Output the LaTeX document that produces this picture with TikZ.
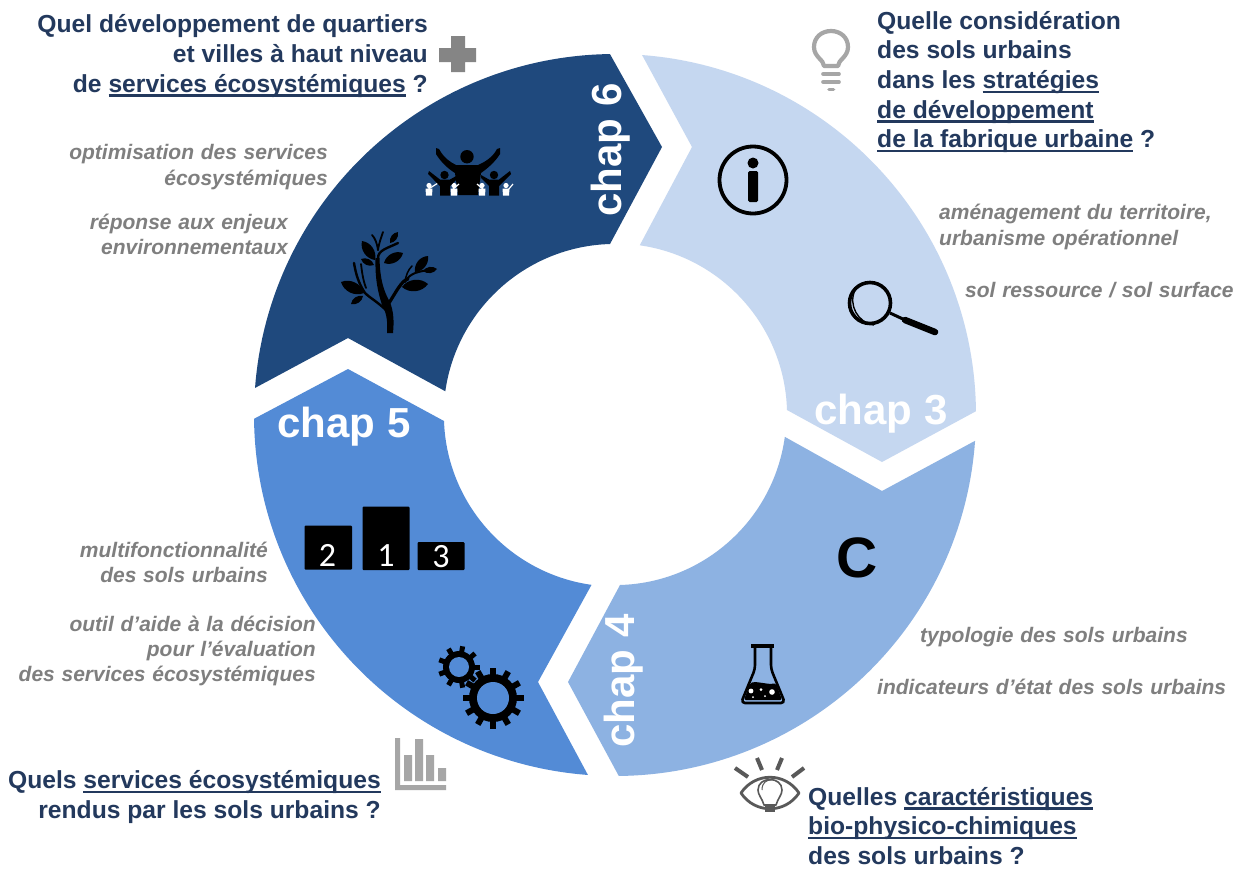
\documentclass[tikz,border=0pt]{standalone}
\usepackage{fontspec}
\setmainfont{Liberation Sans}
\newfontfamily\carl{Carlito}
\newfontfamily\greyfont[WordSpace=1.15]{Liberation Sans}
\definecolor{cA}{HTML}{1F497D}
\definecolor{cB}{HTML}{C5D7F0}
\definecolor{cC}{HTML}{8DB2E2}
\definecolor{cD}{HTML}{538BD6}
\definecolor{navy}{HTML}{23395D}
\definecolor{greyT}{HTML}{7F7F7F}
\definecolor{iconG}{HTML}{A6A6A6}
\newcommand{\ulx}[1]{\setbox0\hbox{#1}\rlap{\rule[-4.5pt]{\wd0}{2.4pt}}\box0\relax}
\newcommand{\leafx}[2]{\fill #1 to[bend left=48] #2 to[bend left=48] #1;}
\newcommand{\gearx}[7]{%
  \fill[black] (#1,#2) circle (#3);
  \foreach \k in {1,...,#6} {\draw[black,line width=#7] (#1,#2) ++({\k*360/#6}:#3-1) -- ++({\k*360/#6}:#5-#3+1);}
  \fill[cD] (#1,#2) circle (#4);}
\tikzset{
  headT/.style={font=\bfseries\fontsize{24.65}{29.7}\selectfont,text=navy,inner sep=0pt},
  greyL/.style={font=\greyfont\bfseries\itshape\fontsize{21}{25.2}\selectfont,text=greyT,inner sep=0pt},
  chapT/.style={font=\bfseries\fontsize{42}{42}\selectfont,text=white,inner sep=0pt},
  iconBox/.style={fill=black,rounded corners=1pt},
  digitT/.style={font=\carl\fontsize{34}{34}\selectfont,text=white,inner sep=0pt}
}
\begin{document}
\begin{tikzpicture}[x=1pt,y=-1pt,line join=round]
\path[use as bounding box,fill=white] (0,0) rectangle (1245,868);
\coordinate (ctr) at (615,415);
% ring
\fill[cA] (ctr) ++(184.3:361) arc[start angle=184.3,end angle=269.2,radius=361] -- (662,147) -- (610,244) arc[start angle=268.3,end angle=188.1,radius=171.5] -- (348,338) -- cycle;
\fill[cB] (ctr) ++(274.3:361) arc[start angle=274.3,end angle=359.4,radius=361] -- (882,462) -- (787,410) arc[start angle=358.3,end angle=278.1,radius=171.5] -- (692,147) -- cycle;
\fill[cC] (ctr) ++(4.1:361) arc[start angle=4.1,end angle=89.4,radius=361] -- (568,682) -- (620,585) arc[start angle=88.3,end angle=7.8,radius=171.5] -- (882,491) -- cycle;
\fill[cD] (ctr) ++(94.3:361) arc[start angle=94.3,end angle=179.4,radius=361] -- (348,369) -- (444,421) arc[start angle=178,end angle=98,radius=171.5] -- (538,682) -- cycle;
% chapter labels
\node[chapT,rotate=90] (ch6) at (611,150) {chap 6};
\node[chapT] (ch3) at (881,414) {chap 3};
\node[chapT,rotate=90] (ch4) at (624,681) {chap 4};
\node[chapT] (ch5) at (344,427) {chap 5};
% headings
\node[headT,align=right,anchor=east] (q6) at (428,56) {Quel développement de quartiers\\et villes à haut niveau\\de \ulx{services écosystémiques} ?};
\node[headT,align=left,anchor=west] (q3) at (877,82) {Quelle considération\\des sols urbains\\dans les \ulx{stratégies}\\\ulx{de développement}\\\ulx{de la fabrique urbaine} ?};
\node[headT,align=right,anchor=east] (q5) at (381,797) {Quels \ulx{services écosystémiques}\\rendus par les sols urbains ?};
\node[headT,align=left,anchor=west] (q4) at (808,826) {Quelles \ulx{caractéristiques}\\\ulx{bio-physico-chimiques}\\des sols urbains ?};
% grey labels
\node[greyL,align=right,anchor=east] (g61) at (328,167) {optimisation des services\\écosystémiques};
\node[greyL,align=right,anchor=east] (g62) at (288,234.5) {réponse aux enjeux\\environnementaux};
\node[greyL,align=left,anchor=west] (g31) at (939,227) {aménagement du territoire,\\urbanisme opérationnel};
\node[greyL,anchor=west] (g32) at (965,290) {sol ressource / sol surface};
\node[greyL,anchor=west] (g41) at (920,637) {typologie des sols urbains};
\node[greyL,anchor=west] (g42) at (877,687) {indicateurs d’état des sols urbains};
\node[greyL,align=right,anchor=east] (g51) at (268,562) {multifonctionnalité\\des sols urbains};
\node[greyL,align=right,anchor=east] (g52) at (316,651) {outil d’aide à la décision\\pour l’évaluation\\des services écosystémiques};
% plus
\fill[greyT!95!white] (451,36) rectangle (465,72) (439,48) rectangle (476,62);
% bulb
\begin{scope}[iconG,line cap=round]
\draw[line width=4.2] (824,66) .. controls (824,60) and (814,57) .. (814,47) .. controls (814,37) and (822,31) .. (831,31) .. controls (840,31) and (848,37) .. (848,47) .. controls (848,57) and (838,60) .. (838,66) -- cycle;
\draw[line width=3.6] (823,74) -- (839,74) (823,82) -- (839,82);
\draw[line width=3.6] (829,89.5) -- (833.5,89.5);
\end{scope}
% info icon
\draw[black,line width=3.8] (753,180) circle (33.5);
\fill[black] (753,163) circle (5.5);
\fill[black,rounded corners=1.5pt] (748,171) rectangle (758,202);
% magnifier
\draw[black,line width=3.6] (870,303) circle (20.5);
\draw[black,line width=1.4] (855,290) .. controls (848,305) and (858,323) .. (874,325);
\draw[black,line width=3] (890,313) -- (905,320);
\draw[black,line width=6.5,line cap=round] (905,320) -- (935,332);
% C
\node[font=\bfseries\fontsize{57}{57}\selectfont,text=black,inner sep=0pt] (cC) at (857,558) {C};
% flask
\draw[black,line width=3.6] (751,646) -- (774,646);
\draw[black,line width=2.6,rounded corners=4pt] (755,646) -- (755,669) -- (741,703) -- (785,703) -- (771,669) -- (771,646);
\fill[black,rounded corners=2pt] (750,683) .. controls (758,681) and (768,685) .. (776,683) -- (782,700) -- (744,700) -- cycle;
\fill[white] (751,691) circle (2.4) (761,689.5) circle (1.5) (772,692) circle (2.8) (765,696) circle (1) (753,697) circle (1);
% eye
\begin{scope}[color=black!65]
\draw[line width=2.8] (741,793) .. controls (755,772) and (785,772) .. (799,793) .. controls (785,814) and (755,814) .. (741,793) -- cycle;
\draw[line width=1.6] (764,805) .. controls (762,798) and (758,795) .. (758,790) .. controls (758,776) and (782,776) .. (782,790) .. controls (782,795) and (778,798) .. (776,805) -- cycle;
\draw[line width=1] (762,790) .. controls (762,782) and (767,780) .. (771,780);
\fill (765,806) rectangle (775,812);
\draw[line width=4] (735,768) -- (748,777) (757,758) -- (762,770) (782,758) -- (777,770) (804,768) -- (792,777);
\end{scope}
% bars
\fill[iconG] (395,738) rectangle (400,790) (395,785) rectangle (446,790);
\fill[iconG] (404,755) rectangle (412,781) (415,739) rectangle (423,781) (426,755) rectangle (434,781) (438,768) rectangle (446,781);
% gears
\gearx{459}{667}{16}{10}{21}{9}{5}
\gearx{493}{698}{24}{16}{30.5}{12}{6}
% podium
\fill[iconBox] (304.5,525.5) rectangle (352,569.5);
\fill[iconBox] (362.5,506.5) rectangle (409.5,570);
\fill[iconBox] (417.5,542) rectangle (464.5,570);
\node[digitT] (p2) at (327.5,555.5) {2};
\node[digitT] (p1) at (386,555.5) {1};
\node[digitT] (p3) at (441,556.5) {3};
% people
\fill[black] (467,156.7) circle (6.7);
\fill[black] (436,148) -- (439,149) .. controls (444,158) and (450,162) .. (456,165) -- (478,165) .. controls (485,162) and (493,157) .. (497,149) -- (500,148) -- (500,154) .. controls (495,162) and (488,168) .. (481,173) -- (478,195) -- (458,195) -- (455,173) .. controls (447,168) and (441,162) .. (436,154) -- cycle;
\fill[white] (429,185.5) circle (2.6) (454,185.5) circle (2.6) (482,185.5) circle (2.6) (506,185.5) circle (2.6);
\fill[white] (425.5,188.5) -- (432.5,188.5) -- (432,195.5) -- (426,195.5) -- cycle (450.5,188.5) -- (457.5,188.5) -- (457,195.5) -- (451,195.5) -- cycle (478.5,188.5) -- (485.5,188.5) -- (485,195.5) -- (479,195.5) -- cycle (502.5,188.5) -- (509.5,188.5) -- (509,195.5) -- (503,195.5) -- cycle;
\draw[white,line width=1.2] (427,190) -- (438,183) (452,190) -- (459,184) (477,184) -- (484,190) (508,190) -- (513,184);
\fill[black] (444.5,175) circle (4.2) (494,175) circle (4.2);
\fill[black] (429,171) -- (440,179.5) -- (450,179.5) -- (458,175) -- (458,178) -- (450,186) -- (450,195.5) -- (440,195.5) -- (440,186) -- (428,174) -- cycle;
\fill[black] (510,171) -- (499,179.5) -- (489,179.5) -- (481,175) -- (481,178) -- (489,186) -- (489,195.5) -- (499,195.5) -- (499,186) -- (511,174) -- cycle;
% tree
\begin{scope}[black,line cap=round]
\fill (387,333) .. controls (388,320) and (386,312) .. (382,305) .. controls (378,292) and (375,280) .. (375.5,258) -- (379.5,258) .. controls (380,280) and (384,292) .. (390,302) .. controls (394,313) and (394,322) .. (393,333) -- cycle;
\draw[line width=2.4] (388,312) .. controls (378,302) and (370,298) .. (365,293) .. controls (359,284) and (356,275) .. (354,263);
\draw[line width=1.8] (366,288) .. controls (363,280) and (362,272) .. (361,264);
\draw[line width=3.2] (389,303) .. controls (396,292) and (402,280) .. (408,279);
\draw[line width=2] (405,282) .. controls (410,272) and (420,272) .. (427,270);
\draw[line width=1.5] (405,282) .. controls (406,275) and (408,270) .. (412,266);
\draw[line width=2.4] (378,258) .. controls (378,250) and (388,248) .. (398,243);
\draw[line width=1.8] (378,250) .. controls (377,243) and (375,238) .. (372,235);
\draw[line width=1.8] (378,250) .. controls (379,243) and (381,238) .. (383,232);
\leafx{(362,241)}{(375,260)}
\leafx{(361,259)}{(374,265)}
\leafx{(384,263)}{(403,253)}
\leafx{(390,243)}{(398,232)}
\leafx{(415,272)}{(428,256)}
\leafx{(423,271)}{(437,269)}
\leafx{(402,287)}{(428,284)}
\leafx{(341,282)}{(364,293)}
\leafx{(351,304)}{(363,296)}
\end{scope}
\end{tikzpicture}
\end{document}
